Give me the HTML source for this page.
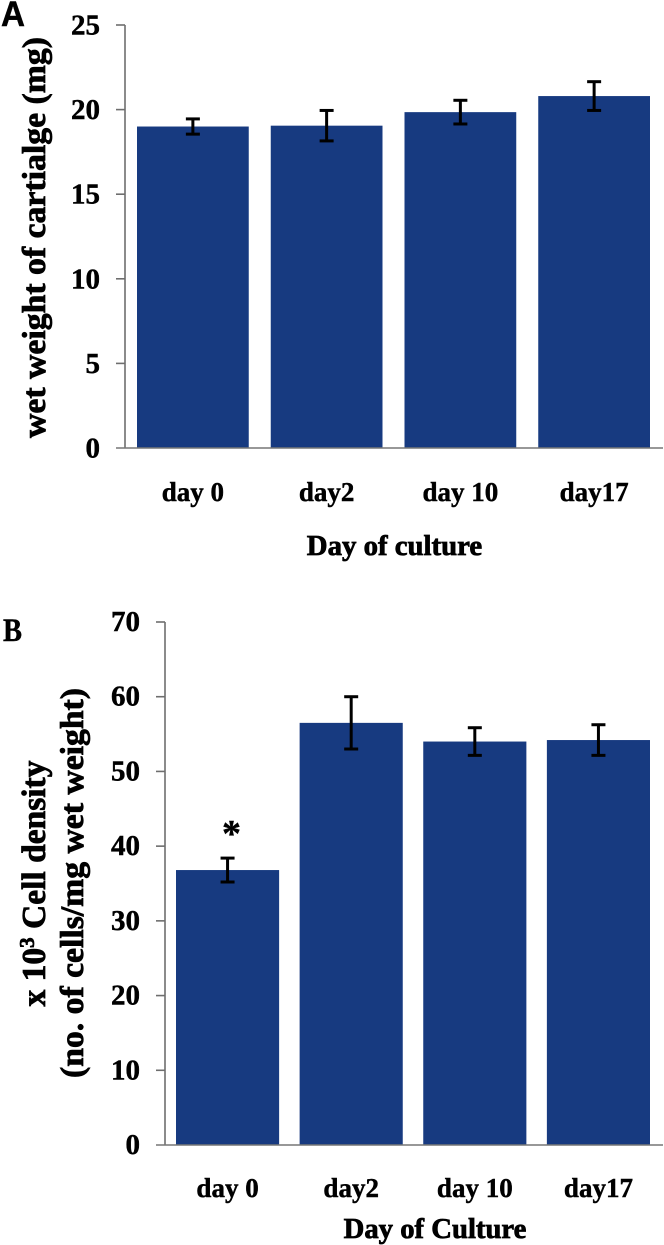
<!DOCTYPE html>
<html>
<head>
<meta charset="utf-8">
<style>
html,body{margin:0;padding:0;background:#fff;width:664px;height:1245px;overflow:hidden}
svg{display:block}
text{font-family:"Liberation Serif",serif;font-weight:bold;fill:#000;stroke:#000;stroke-width:0.45px}
.heavy{stroke-width:0.75px}
</style>
</head>
<body>
<svg id="fig" width="664" height="1245" viewBox="0 0 664 1245" xmlns="http://www.w3.org/2000/svg">
<text x="1" y="26" font-size="35" textLength="24" lengthAdjust="spacingAndGlyphs" style='font-family:"Liberation Sans",sans-serif'>A</text>
<text x="3" y="641" font-size="33" textLength="19" lengthAdjust="spacingAndGlyphs">B</text>
<text class="heavy" transform="translate(45,237.5) rotate(-90)" text-anchor="middle" font-size="33" textLength="401" lengthAdjust="spacingAndGlyphs">wet weight of cartialge (mg)</text>
<text class="heavy" x="394.5" y="555" text-anchor="middle" font-size="28.8">Day of culture</text>
<text class="heavy" transform="translate(45,883.5) rotate(-90)" text-anchor="middle" font-size="33.5">x 10<tspan font-size="21" dy="-11">3</tspan><tspan dy="11"> Cell density</tspan></text>
<text class="heavy" transform="translate(83,883) rotate(-90)" text-anchor="middle" font-size="33" textLength="390" lengthAdjust="spacingAndGlyphs">(no. of cells/mg wet weight)</text>
<text class="heavy" x="435" y="1238" text-anchor="middle" font-size="28.7">Day of Culture</text>
<text x="231.5" y="846" text-anchor="middle" font-size="38">*</text>
</svg>
<script>
const categories = ['day 0', 'day2', 'day 10', 'day17'];
const weightValues = [19.0, 19.05, 19.85, 20.8];
const weightErrors = [0.45, 0.9, 0.7, 0.85];
const weightTicks = [0, 5, 10, 15, 20, 25];
const densityValues = [36.8, 56.5, 54.0, 54.2];
const densityErrors = [1.6, 3.5, 1.85, 2.05];
const densityTicks = [0, 10, 20, 30, 40, 50, 60, 70];

const svg = document.getElementById('fig');
const NS = 'http://www.w3.org/2000/svg';

function add(tag, attrs, parent) {
  const el = document.createElementNS(NS, tag);
  for (const k in attrs) el.setAttribute(k, attrs[k]);
  (parent || svg).appendChild(el);
  return el;
}

function drawPanel(cfg, values, errors, ticks) {
  const maxV = ticks[ticks.length - 1];
  const y = v => cfg.y0 - (v / maxV) * (cfg.y0 - cfg.yTop);
  const slot = (cfg.barsRight - cfg.barsLeft + cfg.gap) / values.length;
  const bw = slot - cfg.gap;
  const x = i => cfg.barsLeft + i * slot;

  values.forEach((v, i) => {
    const bar = add('rect', {x: x(i), y: y(v), width: bw, height: cfg.y0 - y(v), fill: '#173a80'});
    
    
  });

  const yAxis = add('line', {x1: cfg.axisX, x2: cfg.axisX, y1: cfg.yTop, y2: cfg.y0, stroke: '#6e6e6e', 'stroke-width': 1.6});
  
  
  const xAxis = add('line', {x1: cfg.axisX - 9, x2: 663, y1: cfg.y0, y2: cfg.y0, stroke: '#777', 'stroke-width': 1.6});
  
  

  ticks.forEach(t => {
    if (t > 0) {
      const tick = add('line', {x1: cfg.axisX - 9, x2: cfg.axisX, y1: y(t), y2: y(t), stroke: '#6e6e6e', 'stroke-width': 1.6});
      
      
    }
    const label = add('text', {x: cfg.tickLabelX, y: y(t) + cfg.tickDy, 'text-anchor': 'end', 'font-size': 29});
    label.textContent = t;
    
    
  });

  values.forEach((v, i) => {
    const cx = x(i) + bw / 2;
    const top = y(v + errors[i]);
    const bot = y(v - errors[i]);
    const g = add('g', {stroke: '#000', 'stroke-width': 3, fill: 'none'});
    
    
    add('line', {x1: cx, x2: cx, y1: top, y2: bot}, g);
    add('line', {x1: cx - 7, x2: cx + 7, y1: top, y2: top}, g);
    add('line', {x1: cx - 7, x2: cx + 7, y1: bot, y2: bot}, g);

    const label = add('text', {x: cx, y: cfg.labelY, 'text-anchor': 'middle', 'font-size': 27});
    label.textContent = categories[i];
    
    
  });
}

drawPanel({id: 'a', axisX: 125, y0: 448, yTop: 25, barsLeft: 137, barsRight: 650, gap: 22, tickLabelX: 100, tickDy: 9.5, labelY: 501}, weightValues, weightErrors, weightTicks);
drawPanel({id: 'b', axisX: 165, y0: 1145, yTop: 622, barsLeft: 176, barsRight: 650, gap: 20.5, tickLabelX: 140, tickDy: 9, labelY: 1197}, densityValues, densityErrors, densityTicks);
</script>
</body>
</html>
